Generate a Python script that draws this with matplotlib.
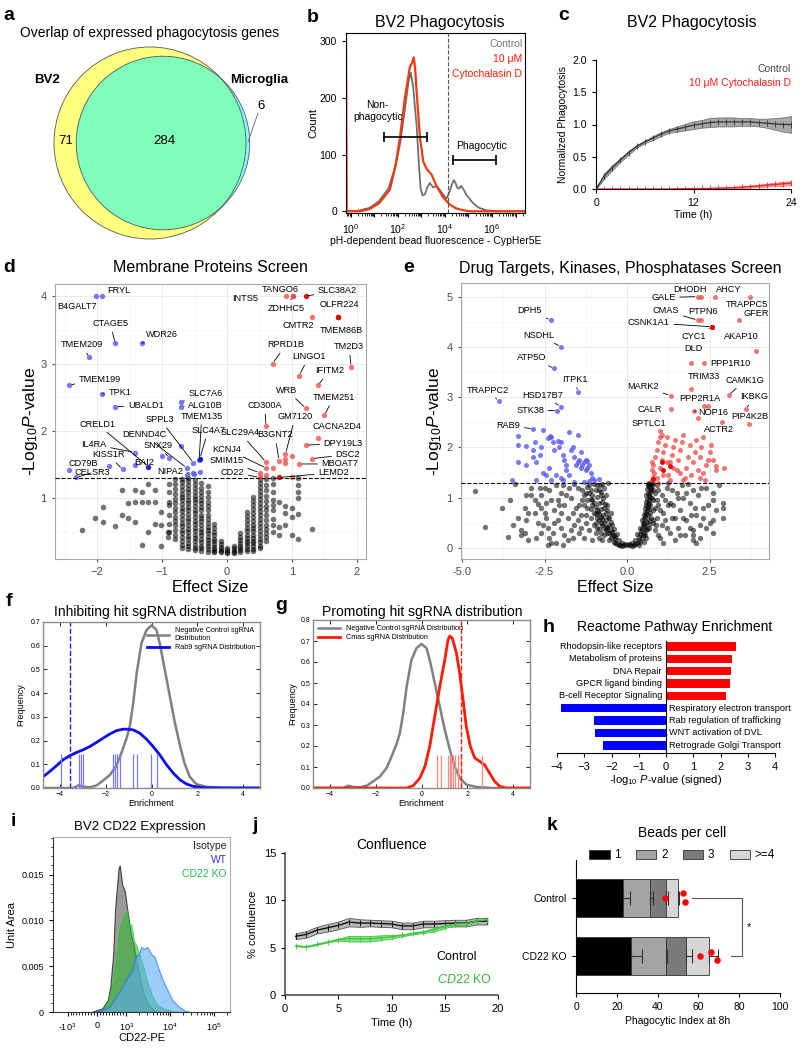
import numpy as np
import matplotlib.pyplot as plt
from matplotlib.patches import Circle, Patch
from matplotlib.ticker import MultipleLocator, FixedLocator, LogLocator, NullFormatter, FormatStrFormatter

plt.rcParams['font.family'] = ['Liberation Sans', 'DejaVu Sans']
plt.rcParams['mathtext.fontset'] = 'custom'
plt.rcParams['mathtext.rm'] = 'Liberation Sans'
plt.rcParams['mathtext.it'] = 'Liberation Sans:italic'
plt.rcParams['mathtext.bf'] = 'Liberation Sans:bold'
plt.rcParams['axes.linewidth'] = 0.8

# ---------------- data ----------------
# a: Venn counts
venn_names = ['BV2', 'Microglia']
venn_only = [71, 6]
venn_shared = 284

# b: flow histogram (log10 fluorescence, count)
flow_logx_ctrl = [-0.2, 0.3, 0.8, 1.2, 1.6, 1.9, 2.1, 2.3, 2.45, 2.55, 2.65, 2.8, 2.9, 2.97, 3.05, 3.15,
                  3.25, 3.36, 3.5, 3.64, 3.78, 3.92, 4.06, 4.2, 4.3, 4.38, 4.45, 4.52, 4.6, 4.69, 4.8,
                  4.9, 5.05, 5.18, 5.32, 5.46, 5.75, 6.2, 7.4]
flow_ctrl = [0, 1, 6, 18, 40, 80, 120, 180, 228, 245, 220, 150, 80, 40, 28, 30, 42, 50, 42, 45, 38, 30,
             22, 35, 48, 55, 50, 42, 40, 45, 38, 30, 22, 15, 10, 6, 2, 0, 0]
flow_logx_cyto = [-0.2, -0.17, 0.4, 0.8, 1.2, 1.66, 1.9, 2.09, 2.3, 2.51, 2.6, 2.68, 2.74, 2.8, 2.94,
                  3.08, 3.22, 3.43, 3.64, 3.92, 4.2, 4.48, 4.77, 5.05, 7.4]
flow_cyto = [310, 0, 0, 4, 14, 38, 80, 130, 200, 255, 262, 272, 250, 210, 130, 88, 75, 65, 45, 25, 12,
             5, 2, 0, 0]

# c: phagocytosis time course
c_time = [0, 1, 2, 3, 4, 5, 6, 7, 8, 9, 10, 11, 12, 13, 14, 15, 16, 17, 18, 19, 20, 21, 22, 23, 24]
c_ctrl = [0, 0.2, 0.33, 0.45, 0.56, 0.66, 0.73, 0.79, 0.85, 0.9, 0.93, 0.96, 0.99, 1.01, 1.03, 1.04,
          1.04, 1.04, 1.04, 1.04, 1.03, 1.02, 1.01, 1.0, 1.0]
c_ctrl_sd = [0, 0.04, 0.04, 0.03, 0.03, 0.02, 0.02, 0.03, 0.03, 0.03, 0.04, 0.05, 0.06, 0.06, 0.07,
             0.07, 0.07, 0.07, 0.06, 0.06, 0.06, 0.07, 0.09, 0.11, 0.13]
c_cyto = [0, 0, 0, 0, 0, 0, 0, 0, 0, 0, 0.002, 0.004, 0.005, 0.008, 0.01, 0.013, 0.017, 0.022, 0.03,
          0.038, 0.048, 0.06, 0.07, 0.08, 0.09]
c_cyto_sd = [0, 0, 0, 0, 0, 0, 0, 0, 0, 0, 0.002, 0.003, 0.004, 0.005, 0.006, 0.007, 0.008, 0.01,
             0.012, 0.015, 0.018, 0.022, 0.026, 0.03, 0.03]

# d: membrane proteins screen (name, x, y, label x, label y, leader, kind)
d_hits = [
    ('FRYL', -1.92, 4.0, -1.67, 4.08, False, 'b'),
    ('B4GALT7', -2.02, 4.0, -2.31, 3.85, False, 'b'),
    ('CTAGE5', -1.72, 3.30, -1.8, 3.59, True, 'b'),
    ('WDR26', -1.31, 3.30, -1.0, 3.43, True, 'b'),
    ('TMEM209', -2.12, 3.09, -2.24, 3.28, True, 'b'),
    ('TMEM199', -2.43, 2.68, -1.96, 2.77, True, 'b'),
    ('TPK1', -1.92, 2.55, -1.65, 2.57, True, 'b'),
    ('UBALD1', -1.72, 2.36, -1.25, 2.38, True, 'b'),
    ('SLC7A6', -0.71, 2.43, -0.33, 2.55, True, 'b'),
    ('ALG10B', -0.71, 2.36, -0.33, 2.38, True, 'b'),
    ('CRELD1', -1.21, 1.47, -2.0, 2.1, True, 'B'),
    ('DENND4C', -0.62, 1.45, -1.28, 1.94, True, 'b'),
    ('SNX29', -0.89, 1.6, -1.06, 1.79, True, 'b'),
    ('SPPL3', -0.52, 1.53, -1.03, 2.17, True, 'b'),
    ('TMEM135', -0.43, 1.57, -0.39, 2.22, True, 'b'),
    ('SLC4A7', -0.42, 1.59, -0.29, 2.01, True, 'B'),
    ('NIPA2', -0.53, 1.37, -0.88, 1.40, True, 'b'),
    ('IL4RA', -1.42, 1.68, -2.05, 1.8, True, 'b'),
    ('KISS1R', -1.61, 1.43, -1.83, 1.65, True, 'b'),
    ('BAI2', -1.42, 1.49, -1.27, 1.53, False, 'b'),
    ('CD79B', -2.43, 1.42, -2.21, 1.52, False, 'b'),
    ('CELSR3', -2.32, 1.31, -2.08, 1.38, True, 'b'),
    ('INTS5', 0.91, 4.0, 0.28, 3.96, False, 'r'),
    ('TANGO6', 1.01, 4.0, 0.82, 4.1, False, 'r'),
    ('ZDHHC5', 1.01, 4.0, 0.91, 3.82, True, 'r'),
    ('SLC38A2', 1.21, 4.0, 1.70, 4.08, True, 'R'),
    ('OLFR224', 1.71, 3.69, 1.73, 3.87, False, 'R'),
    ('CMTR2', 1.31, 3.69, 1.09, 3.57, False, 'r'),
    ('TMEM86B', 1.71, 3.69, 1.76, 3.49, False, 'R'),
    ('RPRD1B', 0.70, 3.0, 0.91, 3.28, True, 'r'),
    ('TM2D3', 1.91, 2.95, 1.88, 3.25, True, 'r'),
    ('LINGO1', 1.11, 2.82, 1.26, 3.1, True, 'r'),
    ('IFITM2', 1.40, 2.68, 1.58, 2.89, True, 'r'),
    ('WRB', 1.21, 2.34, 0.92, 2.6, True, 'r'),
    ('TMEM251', 1.5, 2.23, 1.64, 2.5, True, 'r'),
    ('CD300A', 0.60, 2.07, 0.58, 2.38, True, 'r'),
    ('GM7120', 0.9, 1.66, 1.05, 2.21, True, 'r'),
    ('CACNA2D4', 1.40, 1.89, 1.7, 2.06, False, 'r'),
    ('B3GNT2', 0.8, 1.56, 0.74, 1.94, True, 'r'),
    ('DPY19L3', 1.21, 1.79, 1.79, 1.81, True, 'r'),
    ('DSC2', 1.31, 1.59, 1.86, 1.65, True, 'r'),
    ('MBOAT7', 1.11, 1.51, 1.74, 1.51, True, 'r'),
    ('LEMD2', 0.80, 1.31, 1.64, 1.38, True, 'R'),
    ('SLC29A4', 0.60, 1.54, 0.2, 1.97, True, 'r'),
    ('KCNJ4', 0.60, 1.45, 0.0, 1.73, True, 'r'),
    ('SMIM15', 0.5, 1.38, 0.0, 1.56, True, 'r'),
    ('CD22', 0.5, 1.31, 0.08, 1.39, True, 'r'),
]
d_blue_extra = [(-1.82, 1.48), (-1.0, 1.63), (-0.71, 1.78), (-0.42, 1.39), (-0.51, 1.36), (-0.62, 1.35)]
d_red_extra = [(0.70, 1.45), (0.9, 1.58), (0.9, 1.52), (1.0, 1.63), (1.0, 1.31), (0.6, 1.35)]
# non-significant guides, grouped by effect-size column
d_cols = {
    -0.9: [1.22, 1.1, 0.95, 0.9, 0.76, 0.62, 0.5],
    -0.8: [1.29, 1.21, 1.14, 1.06, 0.99, 0.93, 0.86, 0.8, 0.73, 0.66, 0.6, 0.53, 0.46, 0.39],
    -0.7: [1.29, 1.24, 1.18, 1.13, 1.07, 1.02, 0.97, 0.91, 0.86, 0.81, 0.75, 0.7, 0.64, 0.59, 0.53,
           0.48, 0.42, 0.37, 0.31, 0.27],
    -0.6: [1.3, 1.25, 1.2, 1.14, 1.09, 1.03, 0.98, 0.93, 0.87, 0.82, 0.77, 0.71, 0.66, 0.6, 0.55, 0.5,
           0.44, 0.39, 0.34, 0.29, 0.25],
    -0.5: [1.27, 1.21, 1.15, 1.1, 1.04, 0.99, 0.94, 0.88, 0.83, 0.78, 0.72, 0.67, 0.62, 0.56, 0.51,
           0.46, 0.41, 0.36, 0.31, 0.27, 0.23],
    -0.4: [1.23, 1.16, 1.1, 1.04, 0.98, 0.93, 0.87, 0.82, 0.76, 0.71, 0.66, 0.6, 0.55, 0.5, 0.45,
           0.4, 0.35, 0.3, 0.26, 0.22],
    -0.3: [1.19, 1.1, 1.02, 0.95, 0.88, 0.82, 0.76, 0.7, 0.64, 0.58, 0.53, 0.48, 0.43, 0.38, 0.33,
           0.29, 0.25, 0.21],
    -0.2: [0.62, 0.56, 0.5, 0.45, 0.4, 0.36, 0.32, 0.28, 0.25, 0.22, 0.2],
    -0.1: [0.36, 0.32, 0.28, 0.25, 0.22, 0.2],
    0.0: [0.26, 0.23, 0.21, 0.19],
    0.1: [0.3, 0.27, 0.24, 0.21, 0.19],
    0.2: [0.48, 0.43, 0.38, 0.34, 0.3, 0.26, 0.23, 0.2],
    0.3: [0.8, 0.74, 0.68, 0.62, 0.56, 0.51, 0.46, 0.41, 0.37, 0.33, 0.29, 0.25, 0.22],
    0.4: [1.02, 0.96, 0.9, 0.84, 0.78, 0.72, 0.67, 0.61, 0.56, 0.51, 0.46, 0.41, 0.37, 0.33, 0.29,
          0.25, 0.22],
    0.5: [1.29, 1.23, 1.17, 1.11, 1.05, 0.99, 0.93, 0.87, 0.81, 0.75, 0.69, 0.63, 0.57, 0.51, 0.45,
          0.4, 0.35, 0.3, 0.26],
    0.6: [1.28, 1.2, 1.12, 1.04, 0.96, 0.89, 0.82, 0.75, 0.68, 0.61, 0.54, 0.48, 0.42, 0.36],
    0.7: [1.3, 1.22, 1.1, 0.98, 0.9, 0.82, 0.7, 0.6, 0.5],
}
d_scatter = [(-2.23, 0.53), (-2.03, 0.71), (-1.91, 0.87), (-1.91, 0.65), (-1.72, 0.59), (-1.62, 0.76),
             (-1.62, 1.12), (-1.52, 0.71), (-1.52, 0.93), (-1.42, 0.65), (-1.42, 0.94), (-1.42, 1.12),
             (-1.31, 0.31), (-1.31, 0.94), (-1.31, 1.1), (-1.21, 1.21), (-1.21, 0.5), (-1.21, 0.94),
             (-1.11, 0.94), (-1.11, 1.12), (-1.11, 0.62), (-1.01, 0.3), (-1.01, 0.61), (-1.01, 0.8),
             (-0.91, 0.5), (-0.91, 0.43), (0.8, 0.95), (0.8, 0.58), (0.8, 0.45), (0.9, 0.88), (0.9, 0.78),
             (0.9, 0.6), (1.0, 0.85), (1.0, 0.73), (1.0, 0.45), (1.1, 1.3), (1.1, 1.2), (1.1, 1.1),
             (1.1, 1.0), (1.1, 0.77), (1.31, 0.55), (1.1, 0.39)]

# e: drug targets screen
e_hits = [
    ('DPH5', -2.31, 4.53, -2.94, 4.72, True, 'b'),
    ('NSDHL', -2.0, 4.0, -2.66, 4.23, True, 'b'),
    ('ATP5O', -2.21, 3.57, -2.89, 3.78, True, 'b'),
    ('ITPK1', -1.49, 3.10, -1.58, 3.36, True, 'b'),
    ('TRAPPC2', -3.89, 2.92, -4.23, 3.14, True, 'b'),
    ('HSD17B7', -2.01, 2.81, -2.56, 3.04, True, 'b'),
    ('STK38', -2.11, 2.73, -2.94, 2.74, True, 'b'),
    ('RAB9', -2.84, 2.37, -3.6, 2.43, True, 'b'),
    ('GALE', 2.14, 5.0, 1.1, 4.98, True, 'r'),
    ('DHODH', 2.24, 5.0, 1.91, 5.14, False, 'r'),
    ('AHCY', 2.67, 5.0, 3.07, 5.14, False, 'r'),
    ('TRAPPC5', 3.71, 5.0, 3.63, 4.85, False, 'r'),
    ('CMAS', 2.14, 4.53, 1.17, 4.72, True, 'r'),
    ('PTPN6', 2.24, 4.53, 2.31, 4.70, False, 'r'),
    ('CSNK1A1', 2.57, 4.40, 0.66, 4.48, True, 'R'),
    ('CYC1', 2.57, 4.40, 2.01, 4.21, True, 'R'),
    ('GFER', 3.39, 4.53, 3.9, 4.67, False, 'r'),
    ('AKAP10', 3.91, 3.92, 3.47, 4.2, False, 'r'),
    ('DLD', 1.94, 3.68, 2.01, 3.96, False, 'r'),
    ('PPP1R10', 2.34, 3.68, 3.12, 3.67, False, 'r'),
    ('TRIM33', 1.94, 3.16, 2.33, 3.41, False, 'r'),
    ('MARK2', 1.32, 3.03, 0.49, 3.21, True, 'r'),
    ('CAMK1G', 3.08, 3.04, 3.58, 3.34, True, 'r'),
    ('PPP2R1A', 2.34, 2.82, 2.21, 2.98, False, 'r'),
    ('NOP16', 2.04, 2.72, 2.62, 2.69, True, 'r'),
    ('CALR', 1.32, 2.76, 0.7, 2.76, False, 'r'),
    ('IKBKG', 3.6, 2.76, 3.85, 3.01, True, 'r'),
    ('PIP4K2B', 3.70, 2.46, 3.71, 2.61, False, 'r'),
    ('ACTR2', 2.87, 2.50, 2.77, 2.35, False, 'r'),
    ('SPTLC1', 1.0, 2.33, 0.65, 2.48, False, 'r'),
]
e_blue = [(-3.3, 2.23), (-3.3, 2.05), (-3.3, 1.7), (-3.05, 2.02), (-2.85, 1.8), (-2.55, 2.35), (-2.6, 2.0),
          (-2.55, 1.5), (-2.45, 1.45), (-2.75, 1.7), (-2.65, 1.85), (-2.35, 1.6), (-2.4, 2.18), (-2.3, 2.2),
          (-2.25, 2.1), (-2.2, 1.95), (-2.1, 2.12), (-2.05, 2.0), (-2.0, 2.1), (-1.95, 1.85), (-1.9, 1.75),
          (-1.85, 1.55), (-1.95, 1.35), (-2.15, 1.45), (-2.3, 1.35), (-1.75, 2.3), (-1.7, 1.95), (-1.65, 2.0),
          (-1.6, 1.8), (-1.55, 1.65), (-1.5, 1.7), (-1.45, 1.75), (-1.4, 1.6), (-1.35, 1.65), (-1.3, 1.7),
          (-1.25, 1.55), (-1.2, 1.6), (-1.15, 1.65), (-1.1, 1.5), (-1.05, 1.4), (-1.0, 1.35), (-0.85, 1.38),
          (-1.4, 1.9), (-1.5, 2.25), (-1.75, 1.45), (-2.0, 1.4), (-3.5, 1.35), (-2.75, 1.35), (-1.15, 1.33),
          (-1.3, 1.32), (-1.6, 1.32), (-2.85, 1.95), (-3.05, 1.65), (-1.25, 1.75), (-1.85, 1.65),
          (-2.34, 2.22), (-2.8, 2.1), (-1.2, 1.72)]
e_red = [(0.75, 1.35), (0.78, 1.42), (0.82, 1.5), (0.8, 1.65), (0.85, 1.8), (0.9, 1.95), (0.95, 2.1),
         (1.0, 1.6), (1.05, 1.75), (1.1, 1.9), (1.15, 2.05), (1.2, 2.2), (1.25, 1.45), (1.3, 1.7),
         (1.35, 1.85), (1.4, 2.0), (1.45, 2.15), (1.5, 1.55), (1.55, 1.75), (1.6, 1.95), (1.65, 2.1),
         (1.7, 2.25), (1.75, 1.4), (1.8, 1.6), (1.85, 1.8), (1.9, 2.05), (1.95, 1.45), (2.0, 1.7),
         (2.05, 1.9), (2.1, 2.15), (2.15, 1.55), (2.2, 1.8), (2.25, 2.0), (2.3, 2.2), (2.35, 1.35),
         (2.4, 1.65), (2.45, 1.75), (2.5, 1.9), (2.6, 1.75), (2.7, 1.55), (2.7, 1.62), (2.95, 1.6),
         (2.2, 1.4), (1.7, 1.35), (1.3, 1.35), (0.9, 1.4), (1.1, 1.45), (1.6, 1.5), (1.0, 2.2),
         (1.2, 1.7), (1.4, 1.6), (0.75, 1.55), (0.75, 1.7), (2.55, 2.05), (2.3, 1.5), (0.95, 1.3),
         (1.05, 2.25), (2.44, 2.82), (2.14, 2.58)]
e_red_dark = [(1.05, 1.7), (1.1, 1.55), (0.8, 1.38), (1.3, 1.62)]
e_grey = [(-0.30, 0.08), (-0.20, 0.05), (-0.10, 0.05), (0.00, 0.05), (0.10, 0.05), (0.20, 0.06), (0.30, 0.09),
          (-0.40, 0.12), (-0.15, 0.10), (0.15, 0.10), (0.40, 0.12), (-0.05, 0.08), (0.05, 0.08),
          (-0.25, 0.15), (0.25, 0.15), (-0.50, 0.20), (-0.35, 0.22), (0.35, 0.22), (0.45, 0.20),
          (-0.60, 0.30), (-0.45, 0.32), (0.42, 0.34), (0.50, 0.30), (-0.30, 0.28), (0.30, 0.27),
          (-0.70, 0.40), (-0.55, 0.45), (0.48, 0.48), (0.55, 0.42), (-0.40, 0.38), (0.38, 0.40),
          (-0.80, 0.50), (-0.65, 0.55), (0.52, 0.58), (0.60, 0.52), (-0.50, 0.52), (0.45, 0.55),
          (-0.90, 0.60), (-0.72, 0.66), (0.55, 0.72), (0.62, 0.65), (-0.58, 0.62), (0.50, 0.66),
          (-1.00, 0.70), (-0.80, 0.78), (0.58, 0.85), (0.65, 0.78), (-0.62, 0.75), (0.53, 0.80),
          (-1.05, 0.85), (-0.85, 0.90), (0.60, 0.98), (0.68, 0.90), (-0.68, 0.88), (0.56, 0.92),
          (-1.10, 0.98), (-0.90, 1.02), (0.62, 1.10), (0.70, 1.02), (-0.72, 1.00), (0.58, 1.05),
          (-1.15, 1.10), (-0.95, 1.15), (0.65, 1.22), (0.72, 1.15), (-0.78, 1.12), (0.60, 1.18),
          (-1.20, 1.22), (-1.00, 1.27), (0.75, 1.26), (-0.82, 1.25), (0.63, 1.28), (0.68, 1.30),
          (-0.75, 0.45), (-0.85, 0.55), (-0.95, 0.68), (-0.62, 0.40), (0.65, 0.48), (0.72, 0.60),
          (0.78, 0.75), (0.80, 0.95), (-1.05, 1.05), (-0.88, 0.72), (0.70, 0.70), (-0.70, 0.25),
          (0.58, 0.35), (-0.55, 0.15), (0.50, 0.12),
          (-0.35, 0.18), (-0.45, 0.25), (-0.50, 0.35), (-0.55, 0.30), (-0.60, 0.42), (-0.65, 0.35),
          (-0.70, 0.50), (-0.75, 0.58), (-0.80, 0.62), (-0.85, 0.68), (-0.90, 0.75), (-0.95, 0.82),
          (-1.00, 0.90), (-1.05, 0.95), (-1.10, 1.15), (-0.65, 0.70), (-0.70, 0.80), (-0.75, 0.92),
          (-0.80, 1.05), (-0.85, 1.15), (-0.90, 1.25), (-0.60, 0.85), (-0.65, 1.05), (-0.70, 1.20),
          (-0.55, 0.60), (-0.50, 0.70), (-0.45, 0.45), (-0.40, 0.25), (-0.58, 1.30), (-0.75, 1.28),
          (-1.10, 0.78), (-1.20, 0.95), (-1.25, 1.10), (-1.30, 0.85), (-0.95, 0.50), (-0.85, 0.38),
          (-0.80, 0.30), (-0.90, 0.40),
          (0.35, 0.15), (0.40, 0.28), (0.45, 0.38), (0.50, 0.45), (0.52, 0.50), (0.55, 0.62), (0.57, 0.68),
          (0.60, 0.75), (0.62, 0.82), (0.64, 0.88), (0.66, 0.95), (0.68, 1.05), (0.70, 1.12), (0.72, 1.20),
          (0.74, 1.28), (0.55, 0.25), (0.60, 0.38), (0.65, 0.55), (0.70, 0.85), (0.75, 1.00), (0.80, 1.15),
          (0.78, 0.55), (0.85, 0.80), (0.90, 0.95), (0.68, 0.40), (0.58, 0.20), (0.48, 0.25), (0.62, 1.25),
          (0.78, 1.30), (0.95, 1.15), (1.00, 0.75), (0.88, 0.45),
          (-0.25, 0.05), (0.25, 0.08), (-0.15, 0.04), (0.15, 0.04), (0.35, 0.05), (-0.35, 0.10),
          (-4.60, 1.14), (-4.30, 0.42), (-3.60, 0.22), (-3.20, 0.25), (-3.10, 0.30), (-3.20, 0.35),
          (-3.05, 0.55), (-3.10, 0.80), (-3.05, 1.05), (-2.90, 1.05), (-2.80, 0.95), (-2.70, 0.88),
          (-2.60, 0.80), (-2.60, 1.05), (-2.50, 1.20), (-2.45, 0.60), (-2.40, 0.40), (-2.35, 0.20),
          (-2.30, 0.10), (-2.40, 0.05), (-2.20, 0.75), (-2.10, 0.95), (-2.00, 1.10), (-1.90, 0.85),
          (-1.80, 0.60), (-1.70, 1.00), (-1.60, 0.45), (-1.55, 0.80), (-1.50, 1.20), (-1.45, 0.30),
          (-1.40, 0.65), (-1.35, 0.95), (-1.30, 0.20), (-1.25, 0.50), (-1.20, 0.80), (-1.15, 0.35),
          (-1.10, 0.60), (-1.05, 0.15), (-2.60, 0.30), (-2.70, 0.50), (-2.00, 0.40), (-1.90, 0.25),
          (-1.80, 0.15), (-2.20, 0.50), (-2.50, 0.70), (-1.65, 0.70), (-1.75, 1.20), (-2.15, 1.25),
          (-2.90, 1.20), (-3.40, 1.28), (-3.80, 0.80), (-3.30, 0.60), (-2.00, 0.70), (-1.35, 1.15),
          (-1.70, 0.35), (-1.00, 0.45), (-0.95, 0.30), (-0.85, 0.20), (-0.75, 0.15), (-1.15, 1.25),
          (-1.60, 1.28), (-2.30, 0.95), (-2.80, 0.70), (-1.30, 1.05), (-1.45, 0.85), (-1.25, 0.65),
          (-1.85, 1.05), (-2.35, 1.15),
          (-3.55, 0.95), (-3.45, 0.45), (-3.00, 0.15), (-2.75, 0.20), (-2.55, 0.45), (-2.25, 0.30),
          (-2.10, 0.55), (-1.95, 0.05), (-1.65, 0.20), (-1.50, 0.55), (-1.40, 0.40), (-2.15, 0.10),
          (-2.45, 0.90), (-2.05, 0.85), (-1.95, 1.25), (-2.65, 1.20), (-3.00, 0.70),
          (1.00, 0.20), (1.05, 0.45), (1.10, 0.70), (1.15, 0.95), (1.20, 1.20), (1.30, 0.30), (1.35, 0.60),
          (1.40, 0.85), (1.50, 1.10), (1.55, 0.40), (1.60, 0.75), (1.70, 1.00), (1.75, 0.25), (1.80, 0.55),
          (1.90, 0.90), (2.00, 1.15), (2.00, 0.35), (2.10, 0.65), (2.15, 1.05), (2.20, 0.20), (2.30, 0.80),
          (2.40, 1.20), (2.50, 0.50), (2.60, 0.95), (2.60, 1.10), (2.70, 0.75), (2.80, 1.25), (2.00, 0.15),
          (2.00, 0.25), (2.20, 0.45), (2.30, 0.60), (2.90, 0.80), (2.90, 0.90), (2.90, 0.60), (2.60, 0.55),
          (2.40, 0.40), (0.85, 0.35), (0.90, 0.60), (0.95, 0.85), (0.85, 1.10), (0.90, 1.25), (0.80, 0.50),
          (1.25, 1.30), (1.45, 0.15), (1.65, 1.25), (1.85, 1.28), (1.05, 1.05), (1.25, 0.85), (0.95, 0.25),
          (1.15, 0.55),
          (1.10, 0.10), (1.20, 0.40), (1.30, 0.90), (1.45, 0.60), (1.55, 1.00), (1.60, 0.25), (1.70, 0.60),
          (1.80, 1.10), (1.90, 0.40), (2.05, 0.80), (2.25, 1.20), (2.45, 0.85), (2.60, 0.30), (2.10, 0.10),
          (1.35, 1.15), (1.95, 0.65)]

# f, g: sgRNA enrichment densities
neg_x = [-4.75, -3.42, -3.2, -2.98, -2.69, -2.4, -2.11, -1.82, -1.53, -1.31, -1.09, -0.95, -0.8, -0.65,
         -0.44, -0.22, 0.0, 0.22, 0.36, 0.58, 0.8, 1.02, 1.24, 1.45, 1.67, 1.96, 2.4, 3.1, 4.75]
neg_y = [0.0, 0.0, 0.011, 0.005, 0.003, 0.011, 0.032, 0.055, 0.095, 0.15, 0.21, 0.26, 0.357, 0.483,
         0.61, 0.666, 0.686, 0.666, 0.61, 0.5, 0.388, 0.277, 0.182, 0.103, 0.048, 0.016, 0.005, 0.0, 0.0]
rab9_x = [-4.77, -4.45, -4.16, -3.87, -3.58, -3.28, -2.99, -2.7, -2.41, -2.12, -1.82, -1.53, -1.24,
          -1.02, -0.8, -0.51, -0.22, 0.07, 0.36, 0.66, 0.95, 1.24, 1.53, 1.82, 2.26, 4.75]
rab9_y = [0.046, 0.07, 0.094, 0.119, 0.136, 0.15, 0.161, 0.175, 0.192, 0.21, 0.228, 0.242, 0.248,
          0.248, 0.245, 0.231, 0.206, 0.175, 0.14, 0.098, 0.063, 0.035, 0.017, 0.007, 0.001, 0.0]
rab9_sgrna = [-3.97, -3.17, -3.07, -2.99, -1.68, -1.61, -1.5, -1.39, -0.8, -0.63, -0.03, 0.26]
rab9_cut = -3.58
cmas_x = [-4.75, -0.65, -0.36, -0.07, 0.15, 0.36, 0.58, 0.80, 1.02, 1.16, 1.24, 1.35, 1.53, 1.67,
          1.82, 1.96, 2.14, 2.33, 2.55, 2.76, 2.98, 3.2, 3.42, 3.71, 4.75]
cmas_y = [0, 0, 0.011, 0.048, 0.103, 0.198, 0.341, 0.483, 0.61, 0.705, 0.724, 0.713, 0.642, 0.547,
          0.42, 0.293, 0.198, 0.143, 0.127, 0.111, 0.071, 0.032, 0.008, 0, 0]
cmas_sgrna = [0.68, 0.87, 1.16, 1.24, 1.31, 1.38, 1.45, 1.6, 1.75, 2.66]
cmas_cut = 1.72

# h: reactome
reactome_terms = ['Rhodopsin-like receptors', 'Metabolism of proteins', 'DNA Repair',
                  'GPCR ligand binding', 'B-cell Receptor Signaling', 'Respiratory electron transport',
                  'Rab regulation of trafficking', 'WNT activation of DVL', 'Retrograde Golgi Transport']
reactome_vals = [2.58, 2.42, 2.4, 2.36, 2.21, -3.85, -2.63, -2.59, -2.31]

# i: CD22 flow
iso_x = [-185, 185, 370, 456, 556, 618, 678, 741, 778, 864, 951, 1067, 1267, 1496, 1767, 2090, 2470,
         3180, 4450, 6000]
iso_y = [0, 0.0004, 0.0013, 0.0027, 0.0063, 0.011, 0.0135, 0.0157, 0.016, 0.0139, 0.0132, 0.011,
         0.0085, 0.0071, 0.0053, 0.0035, 0.002, 0.00076, 0.00014, 0]
ko_x = [63, 248, 407, 556, 678, 741, 864, 1035, 1163, 1306, 1496, 1767, 2090, 2470, 2920, 3750, 4830,
        6760, 11200, 15000]
ko_y = [0, 0.0004, 0.0013, 0.0035, 0.0067, 0.0088, 0.0101, 0.0112, 0.0092, 0.0096, 0.0078, 0.0071,
        0.006, 0.0049, 0.0035, 0.002, 0.0009, 0.0004, 0.0001, 0]
wt_x = [-185, 185, 433, 678, 864, 1067, 1374, 1627, 1922, 2200, 2550, 3020, 3750, 4450, 5260, 6760,
        8700, 11200, 15600, 21800, 28000]
wt_y = [0, 0.0002, 0.0006, 0.0018, 0.0027, 0.0038, 0.0045, 0.006, 0.0063, 0.0071, 0.0069, 0.0071,
        0.0063, 0.006, 0.0049, 0.0035, 0.0024, 0.0013, 0.0006, 0.00014, 0]

# j: confluence
conf_time = [1, 2, 3, 4, 5, 6, 7, 8, 9, 10, 11, 12, 13, 14, 15, 16, 17, 18, 19]
conf_ctrl = [6.2, 6.4, 6.85, 7.1, 7.35, 7.7, 7.6, 7.6, 7.55, 7.5, 7.3, 7.3, 7.5, 7.5, 7.55, 7.6, 7.6, 7.8, 7.8]
conf_ctrl_sem = [0.3, 0.35, 0.35, 0.4, 0.4, 0.45, 0.4, 0.35, 0.35, 0.35, 0.35, 0.35, 0.35, 0.35, 0.35,
                 0.35, 0.35, 0.35, 0.35]
conf_ko = [5.2, 5.1, 5.35, 5.6, 5.85, 5.95, 5.95, 5.95, 6.05, 6.15, 6.3, 6.5, 6.65, 6.9, 7.2, 7.5, 7.55,
           7.8, 7.95]
conf_ko_sem = [0.05, 0.05, 0.05, 0.05, 0.1, 0.3, 0.3, 0.3, 0.25, 0.2, 0.1, 0.1, 0.1, 0.2, 0.15, 0.1,
               0.1, 0.05, 0.05]

# k: beads per cell
bead_groups = ['Control', 'CD22 KO']
bead_bins = ['1', '2', '3', '>=4']
beads_ctrl = [22.8, 13.7, 7.7, 5.7]
beads_ko = [26.8, 17.1, 9.9, 11.3]
beads_ctrl_err = [3.8, 1.2, 1.0, 0.7]
beads_ko_err = [5.5, 0.6, 3.3, 4.7]
index_ctrl = [43.4, 52.4, 53.3]
index_ko = [60.8, 66.1, 69.0]

# ---------------- helpers ----------------
W, H = 800, 1048
fig = plt.figure(figsize=(W / 100, H / 100), dpi=100)


def axes_px(left, top, right, bottom):
    return fig.add_axes([left / W, 1 - bottom / H, (right - left) / W, (bottom - top) / H])


def ftext(x, y, s, **kw):
    kw.setdefault('ha', 'center')
    kw.setdefault('va', 'center')
    fig.text(x / W, 1 - y / H, s, **kw)


def xlabel_at(ax, s, y, **kw):
    ax.set_xlabel(s, **kw)
    pos = ax.get_position()
    ax.xaxis.set_label_coords(0.5, (1 - y / H - pos.y0) / pos.height)
    ax.xaxis.label.set_va('center')


def ylabel_at(ax, s, x, **kw):
    ax.set_ylabel(s, **kw)
    pos = ax.get_position()
    ax.yaxis.set_label_coords((x / W - pos.x0) / pos.width, 0.5)
    ax.yaxis.label.set_va('center')


def letter(x, y, s):
    ftext(x, y, s, fontsize=14, fontweight='bold')


for x, y, s in [(9, 15, 'a'), (313, 17, 'b'), (564, 16, 'c'), (9, 268, 'd'), (409, 268, 'e'),
                (9, 601, 'f'), (281, 606, 'g'), (549, 627, 'h'), (13, 822, 'i'), (255, 826, 'j'),
                (552, 826, 'k')]:
    letter(x, y, s)

# ---------------- a: Venn ----------------
ax = axes_px(20, 40, 280, 260)
ax.set_xlim(20, 280)
ax.set_ylim(260, 40)
ax.axis('off')
k_px = 96 / np.sqrt(venn_only[0] + venn_shared)
r_bv2 = k_px * np.sqrt(venn_only[0] + venn_shared)
r_mg = k_px * np.sqrt(venn_only[1] + venn_shared)
bv2 = Circle((150, 143), r_bv2, fc='#ffff80', ec='none')
ax.add_patch(bv2)
ax.add_patch(Circle((163, 143), r_mg, fc='#80ffff', ec='none'))
ov = Circle((163, 143), r_mg, fc='#80ffba', ec='none')
ax.add_patch(ov)
ov.set_clip_path(bv2)
ax.add_patch(Circle((150, 143), r_bv2, fc='none', ec='#555555', lw=0.6))
ax.add_patch(Circle((163, 143), r_mg, fc='none', ec='#555555', lw=0.6))
ax.text(47, 80, venn_names[0], fontsize=9.5, fontweight='bold', ha='center', va='center')
ax.text(259, 80, venn_names[1], fontsize=9.5, fontweight='bold', ha='center', va='center')
ax.text(66, 141, str(venn_only[0]), fontsize=9.5, ha='center', va='center')
ax.text(164, 141, str(venn_shared), fontsize=9.5, ha='center', va='center')
ax.text(261, 106, str(venn_only[1]), fontsize=9.5, ha='center', va='center')
ax.plot([258, 248], [113, 142], color='#666666', lw=0.6)
ftext(150, 33, 'Overlap of expressed phagocytosis genes', fontsize=10)

# ---------------- b: flow histogram ----------------
axb = axes_px(346, 33, 525, 213)
axb.plot(10 ** np.array(flow_logx_ctrl), flow_ctrl, color='#707070', lw=1.3)
axb.plot(10 ** np.array(flow_logx_cyto), flow_cyto, color='#f03a12', lw=1.6)
axb.set_xscale('log')
axb.set_xlim(10 ** -0.2, 10 ** 7.4)
axb.set_ylim(-3, 315)
axb.xaxis.set_major_locator(FixedLocator([1e0, 1e1, 1e2, 1e3, 1e4, 1e5, 1e6, 1e7]))
axb.set_xticklabels([r'$10^0$', '', r'$10^2$', '', r'$10^4$', '', r'$10^6$', ''])
axb.xaxis.set_minor_locator(LogLocator(base=10, subs=(2, 3, 4, 5, 6, 7, 8, 9), numticks=30))
axb.xaxis.set_minor_formatter(NullFormatter())
axb.set_yticks([0, 100, 200, 300])
axb.tick_params(labelsize=7.5, length=3, width=0.8)
axb.tick_params(which='minor', length=2, width=0.6)
axb.axvline(10 ** 4.13, color='#555555', ls='--', lw=0.8)
axb.plot([10 ** 1.4, 10 ** 3.23], [132, 132], color='black', lw=1.2, marker='|', ms=7, mew=1.2)
axb.plot([10 ** 4.34, 10 ** 6.17], [91, 91], color='black', lw=1.2, marker='|', ms=7, mew=1.2)
axb.text(10 ** 1.15, 177, 'Non-\nphagocytic', fontsize=7.5, ha='center', va='center', linespacing=1.2)
axb.text(10 ** 5.57, 116, 'Phagocytic', fontsize=7.5, ha='center', va='center')
axb.text(0.985, 0.94, 'Control', color='#777777', fontsize=7.5, ha='right', va='center',
         transform=axb.transAxes)
axb.text(0.985, 0.855, '10 μM', color='#ff1a00', fontsize=7.5, ha='right', va='center',
         transform=axb.transAxes)
axb.text(0.985, 0.77, 'Cytochalasin D', color='#ff1a00', fontsize=7.5, ha='right', va='center',
         transform=axb.transAxes)
ylabel_at(axb, 'Count', 313, fontsize=8)
xlabel_at(axb, 'pH-dependent bead fluorescence - CypHer5E', 241, fontsize=7.5)
ftext(440, 22, 'BV2 Phagocytosis', fontsize=11.5)

# ---------------- c: time course ----------------
axc = axes_px(596, 60, 791, 189)
cc = np.array(c_ctrl)
cs = np.array(c_ctrl_sd)
axc.fill_between(c_time, cc - cs, cc + cs, facecolor='#a8a8a8', edgecolor='#666666', lw=0.5)
axc.plot(c_time, c_ctrl, color='#333333', lw=0.9, marker='|', ms=4, mew=0.6)
rc = np.array(c_cyto)
rs = np.array(c_cyto_sd)
axc.fill_between(c_time, rc - rs, rc + rs, facecolor='#f7a0a0', edgecolor='#ee6666', lw=0.5)
axc.plot(c_time, c_cyto, color='#ff2020', lw=0.9, marker='|', ms=4, mew=0.6)
axc.set_xlim(0, 24)
axc.set_ylim(0, 2.0)
axc.set_xticks([0, 12, 24])
axc.set_yticks([0, 0.5, 1.0, 1.5, 2.0])
axc.yaxis.set_major_formatter(FormatStrFormatter('%.1f'))
axc.spines['top'].set_visible(False)
axc.spines['right'].set_visible(False)
axc.tick_params(labelsize=7.5, length=3)
axc.text(1.0, 0.93, 'Control', color='#444444', fontsize=7.5, ha='right', va='center',
         transform=axc.transAxes)
axc.text(1.0, 0.825, '10 μM Cytochalasin D', color='#ff1a1a', fontsize=7.5, ha='right', va='center',
         transform=axc.transAxes)
ylabel_at(axc, 'Normalized Phagocytosis', 563, fontsize=7.5)
xlabel_at(axc, 'Time (h)', 215, fontsize=7.5)
ftext(692, 22, 'BV2 Phagocytosis', fontsize=11.5)


# ---------------- d, e: volcano plots ----------------
def volcano_style(ax):
    ax.set_facecolor('white')
    ax.grid(True, which='major', color='#ebebeb', lw=0.7)
    ax.grid(True, which='minor', color='#f5f5f5', lw=0.5)
    ax.set_axisbelow(True)
    for s in ax.spines.values():
        s.set_color('#a8a8a8')
        s.set_linewidth(0.8)
    ax.tick_params(which='major', length=2.5, color='#555555', labelsize=8, labelcolor='#4d4d4d')
    ax.tick_params(which='minor', length=0)


hit_colors = {'b': ('#5858f0', 0.8), 'B': ('#1414d8', 0.95), 'r': ('#ec4848', 0.75), 'R': ('#e00000', 0.95)}


def draw_hits(ax, hits, size):
    for name, x, y, tx, ty, line, kind in hits:
        col, al = hit_colors[kind]
        ax.scatter([x], [y], s=size, color=col, alpha=al, lw=0, zorder=3)
    for name, x, y, tx, ty, line, kind in hits:
        props = dict(arrowstyle='-', lw=0.6, color='black', shrinkA=1, shrinkB=2) if line else None
        ax.annotate(name, xy=(x, y), xytext=(tx, ty), fontsize=6.6, ha='center', va='center',
                    arrowprops=props, zorder=4)


axd = axes_px(55, 284, 366, 559)
volcano_style(axd)
gx, gy = [], []
for cx, ys in d_cols.items():
    gx += [cx] * len(ys)
    gy += ys
gx += [p[0] for p in d_scatter]
gy += [p[1] for p in d_scatter]
axd.scatter(gx, gy, s=16, color='black', alpha=0.55, lw=0, zorder=2)
axd.scatter([p[0] for p in d_blue_extra], [p[1] for p in d_blue_extra], s=15, color='#5858f0',
            alpha=0.8, lw=0, zorder=3)
axd.scatter([p[0] for p in d_red_extra], [p[1] for p in d_red_extra], s=15, color='#ec4848',
            alpha=0.75, lw=0, zorder=3)
draw_hits(axd, d_hits, 15)
axd.axhline(-np.log10(0.05), color='black', ls='--', lw=0.8, zorder=3)
axd.set_xlim(-2.65, 2.14)
axd.set_ylim(0.1, 4.18)
axd.xaxis.set_major_locator(MultipleLocator(1))
axd.xaxis.set_minor_locator(MultipleLocator(0.5))
axd.yaxis.set_major_locator(FixedLocator([1, 2, 3, 4]))
axd.yaxis.set_minor_locator(FixedLocator([0.5, 1.5, 2.5, 3.5]))
ylabel_at(axd, r'-Log$_{10}$$P$-value', 30, fontsize=12.5)
xlabel_at(axd, 'Effect Size', 588, fontsize=11.5)
ftext(210, 268, 'Membrane Proteins Screen', fontsize=11.5)

axe = axes_px(461, 283, 769, 559)
volcano_style(axe)
axe.scatter([p[0] for p in e_grey], [p[1] for p in e_grey], s=15, color='black', alpha=0.55, lw=0,
            zorder=2)
axe.scatter([p[0] for p in e_blue], [p[1] for p in e_blue], s=13, color='#5858f0', alpha=0.8, lw=0,
            zorder=3)
axe.scatter([p[0] for p in e_red], [p[1] for p in e_red], s=13, color='#ec4848', alpha=0.75, lw=0,
            zorder=3)
axe.scatter([p[0] for p in e_red_dark], [p[1] for p in e_red_dark], s=13, color='#e00000', alpha=0.95,
            lw=0, zorder=3)
draw_hits(axe, e_hits, 13)
axe.axhline(-np.log10(0.05), color='black', ls='--', lw=0.8, zorder=3)
axe.set_xlim(-5.03, 4.3)
axe.set_ylim(-0.22, 5.27)
axe.xaxis.set_major_locator(MultipleLocator(2.5))
axe.xaxis.set_minor_locator(MultipleLocator(1.25))
axe.xaxis.set_major_formatter(FormatStrFormatter('%.1f'))
axe.yaxis.set_major_locator(MultipleLocator(1))
axe.yaxis.set_minor_locator(MultipleLocator(0.5))
ylabel_at(axe, r'-Log$_{10}$$P$-value', 435, fontsize=12.5)
xlabel_at(axe, 'Effect Size', 588, fontsize=11.5)
ftext(620, 268, 'Drug Targets, Kinases, Phosphatases Screen', fontsize=11.5)


# ---------------- f, g: sgRNA distributions ----------------
def classic_style(ax, ymax):
    for s in ax.spines.values():
        s.set_color('#8c8c8c')
        s.set_linewidth(1.0)
    ax.set_xlim(-4.75, 4.75)
    ax.set_ylim(0, ymax)
    ax.set_xticks([-4, -2, 0, 2, 4])
    ax.set_yticks(np.round(np.arange(0, ymax + 0.01, 0.1), 1))
    ax.yaxis.set_major_formatter(FormatStrFormatter('%.1f'))
    ax.tick_params(direction='in', top=True, right=True, labelsize=5, length=3, width=0.6, pad=2)


axf = axes_px(43, 622, 260, 788)
axf.plot(neg_x, neg_y, color='#808080', lw=1.8, label='Negative Control sgRNA\nDistribution')
axf.plot(rab9_x, rab9_y, color='#0b0bf0', lw=2.0, label='Rab9 sgRNA Distribution')
axf.vlines(rab9_sgrna, 0, 0.143, color='#7a7aff', lw=0.9)
axf.axvline(rab9_cut, color='#1a1aff', ls='--', lw=1.0)
classic_style(axf, 0.7)
axf.legend(loc='upper right', frameon=False, fontsize=5.2, handlelength=3, borderaxespad=0.3,
           labelspacing=0.3)
ylabel_at(axf, 'Frequency', 21, fontsize=6.5)
xlabel_at(axf, 'Enrichment', 803, fontsize=6.5)
ftext(150, 612, 'Inhibiting hit sgRNA distribution', fontsize=10)

axg = axes_px(313, 620, 530, 788)
axg.plot(neg_x, neg_y, color='#808080', lw=1.8, label='Negative Control sgRNA Distribution')
axg.plot(cmas_x, cmas_y, color='#ff1a0a', lw=2.0, label='Cmas sgRNA Distribution')
axg.vlines(cmas_sgrna, 0, 0.158, color='#ff8a80', lw=0.9)
axg.axvline(cmas_cut, color='#ff1a0a', ls='--', lw=1.0)
classic_style(axg, 0.8)
axg.legend(loc='upper left', frameon=False, fontsize=5.2, handlelength=3, borderaxespad=0.3,
           labelspacing=0.3)
ylabel_at(axg, 'Frequency', 293, fontsize=6.5)
xlabel_at(axg, 'Enrichment', 803, fontsize=6.5)
ftext(422, 612, 'Promoting hit sgRNA distribution', fontsize=10)

# ---------------- h: reactome ----------------
axh = axes_px(557, 641, 775, 753)
ypos = np.arange(len(reactome_terms))
cols = ['#ff0000' if v > 0 else '#0000ff' for v in reactome_vals]
axh.barh(ypos, reactome_vals, height=0.68, color=cols)
for yy, term, v in zip(ypos, reactome_terms, reactome_vals):
    if v > 0:
        axh.text(-0.15, yy, term, ha='right', va='center', fontsize=6.6)
    else:
        axh.text(0.12, yy, term, ha='left', va='center', fontsize=6.6)
axh.set_xlim(-4, 4)
axh.set_ylim(8.62, -0.45)
axh.spines['top'].set_visible(False)
axh.spines['right'].set_visible(False)
axh.spines['left'].set_position(('data', 0))
axh.set_yticks([])
axh.set_xticks([-4, -3, -2, -1, 0, 1, 2, 3, 4])
axh.tick_params(labelsize=8, length=3)
xlabel_at(axh, r'-log$_{10}$ $P$-value (signed)', 780, fontsize=8)
ftext(675, 627, 'Reactome Pathway Enrichment', fontsize=10)

# ---------------- i: CD22 expression ----------------
axi = axes_px(53, 837, 230, 1012)
axi.set_xscale('symlog', linthresh=1000, linscale=0.6)
axi.fill_between(iso_x, 0, iso_y, facecolor='#8f8f8f', edgecolor='#333333', lw=0.8, alpha=0.9)
axi.fill_between(ko_x, 0, ko_y, facecolor='#33b833', edgecolor='#1fd01f', lw=0.9, alpha=0.6)
axi.fill_between(wt_x, 0, wt_y, facecolor='#5aaaf5', edgecolor='#1a6cff', lw=0.9, alpha=0.6)
axi.set_xlim(-2150, 230000)
axi.set_ylim(0, 0.0191)
axi.set_xticks([-1000, 0, 1000, 10000, 100000])
axi.set_xticklabels([r'-$10^3$', '0', r'$10^3$', r'$10^4$', r'$10^5$'])
axi.xaxis.set_minor_locator(FixedLocator([-900, -800, -700, -600, -500, -400, -300, -200, -100, 100,
                                          200, 300, 400, 500, 600, 700, 800, 900, 2000, 3000, 4000,
                                          5000, 6000, 7000, 8000, 9000, 20000, 30000, 40000, 50000,
                                          60000, 70000, 80000, 90000, 200000]))
axi.set_yticks([0, 0.005, 0.010, 0.015])
axi.set_yticklabels(['0', '0.005', '0.010', '0.015'])
axi.yaxis.set_minor_locator(MultipleLocator(0.001))
for s in axi.spines.values():
    s.set_color('#b0b0b0')
axi.spines['left'].set_color('#333333')
axi.spines['bottom'].set_color('#333333')
axi.tick_params(labelsize=6.5, length=3)
axi.tick_params(which='minor', length=1.8)
axi.text(0.98, 0.95, 'Isotype', color='#222222', fontsize=7.5, ha='right', va='center',
         transform=axi.transAxes)
axi.text(0.98, 0.87, 'WT', color='#3030ff', fontsize=7.5, ha='right', va='center',
         transform=axi.transAxes)
axi.text(0.98, 0.79, 'CD22 KO', color='#22bb55', fontsize=7.5, ha='right', va='center',
         transform=axi.transAxes)
ylabel_at(axi, 'Unit Area', 12, fontsize=8)
xlabel_at(axi, 'CD22-PE', 1038, fontsize=8)
ftext(140, 827, 'BV2 CD22 Expression', fontsize=9.5)

# ---------------- j: confluence ----------------
axj = axes_px(285, 853, 498, 995)
a1 = np.array(conf_ctrl)
s1 = np.array(conf_ctrl_sem)
axj.fill_between(conf_time, a1 - s1, a1 + s1, facecolor='#b8b8b8', edgecolor='#555555', lw=0.6)
axj.plot(conf_time, conf_ctrl, color='black', lw=0.9, marker='|', ms=4, mew=0.6)
a2 = np.array(conf_ko)
s2 = np.array(conf_ko_sem)
axj.fill_between(conf_time, a2 - s2, a2 + s2, facecolor='#8be08b', edgecolor='#33bb33', lw=0.5)
axj.plot(conf_time, conf_ko, color='#33cc33', lw=0.9, marker='|', ms=4, mew=0.6)
axj.set_xlim(0, 20)
axj.set_ylim(0, 15)
axj.set_xticks([0, 5, 10, 15, 20])
axj.set_yticks([0, 5, 10, 15])
axj.spines['top'].set_visible(False)
axj.spines['right'].set_visible(False)
for s in ('left', 'bottom'):
    axj.spines[s].set_linewidth(1.1)
    axj.spines[s].set_color('#444444')
axj.tick_params(labelsize=8, length=3)
axj.text(14.25, 4.0, 'Control', color='black', fontsize=9, ha='left', va='center')
axj.text(14.25, 1.6, r'$\it{CD22}$ KO', color='#33bb33', fontsize=9, ha='left', va='center')
ylabel_at(axj, '% confluence', 253, fontsize=8)
xlabel_at(axj, 'Time (h)', 1023, fontsize=8)
ftext(392, 845, 'Confluence', fontsize=10)

# ---------------- k: beads per cell ----------------
axk = axes_px(576, 860, 780, 993)
seg_colors = ['#000000', '#a4a4a4', '#7a7a7a', '#d6d6d6']
yk = [1, 0]
for yy, vals, errs in zip(yk, [beads_ctrl, beads_ko], [beads_ctrl_err, beads_ko_err]):
    left = 0
    for val, err, col in zip(vals, errs, seg_colors):
        axk.barh(yy, val, left=left, height=0.66, color=col, edgecolor='#333333', lw=0.6)
        axk.errorbar(left + val, yy, xerr=[[0], [err]], fmt='none', ecolor='#333333', capsize=5,
                     elinewidth=0.8, capthick=0.8, zorder=4)
        left += val
axk.scatter(index_ctrl, [1.0, 1.075, 0.935], s=22, color='#ff0000', zorder=5, lw=0)
axk.scatter(index_ko, [0.0, 0.07, -0.075], s=22, color='#ff0000', zorder=5, lw=0)
axk.plot([56.8, 81.2, 81.2, 76], [1, 1, 0, 0], color='#555555', lw=0.8)
axk.text(84.8, 0.5, '*', fontsize=8, ha='center', va='center')
axk.set_xlim(0, 100)
axk.set_ylim(-0.64, 1.65)
axk.set_yticks(yk)
axk.set_yticklabels(bead_groups)
axk.set_xticks([0, 20, 40, 60, 80, 100])
axk.spines['top'].set_visible(False)
axk.spines['right'].set_visible(False)
axk.tick_params(labelsize=7.5, length=3)
handles = [Patch(facecolor=c, edgecolor='#333333', lw=0.6) for c in seg_colors]
axk.legend(handles, bead_bins, ncol=4, loc='lower center', bbox_to_anchor=(0.52, 0.91), frameon=False,
           fontsize=8.5, handlelength=1.7, handleheight=0.8, columnspacing=1.3, handletextpad=0.4)
xlabel_at(axk, 'Phagocytic Index at 8h', 1021, fontsize=7.5)
ftext(682, 833, 'Beads per cell', fontsize=10)

fig.savefig('out.png', dpi=100)
